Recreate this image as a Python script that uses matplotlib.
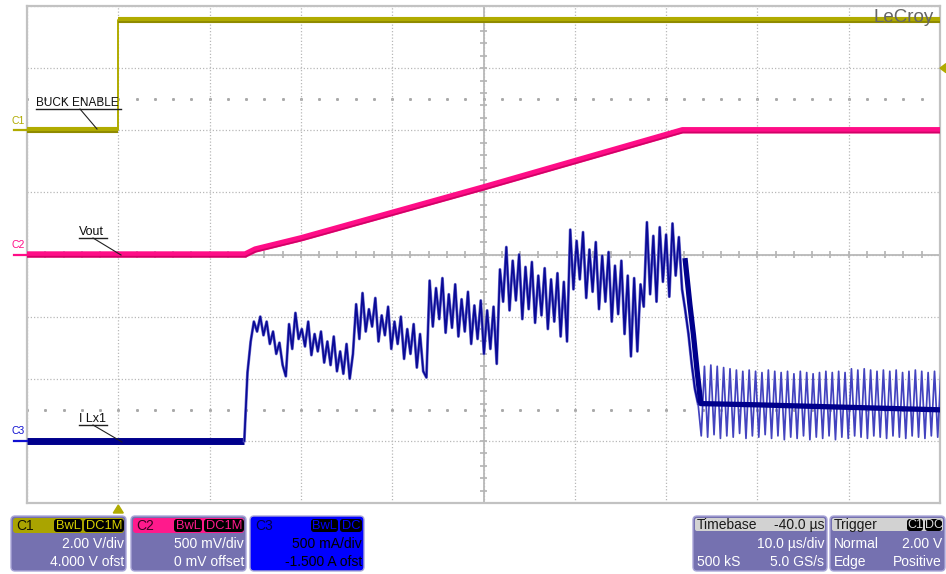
import numpy as np
import matplotlib.pyplot as plt
from matplotlib.patches import FancyBboxPatch, Polygon
from matplotlib.transforms import offset_copy

plt.rcParams["font.family"] = ["Liberation Sans", "DejaVu Sans"]

# timebase (us)
TIME_DIV = 10.0
DELAY = -40.0

# channel scale per div and offset
C1_SCALE, C1_OFFSET = 2.0, 4.0     # V
C2_SCALE, C2_OFFSET = 0.5, 0.0     # V
C3_SCALE, C3_OFFSET = 0.5, -1.5    # A

# C1: BUCK ENABLE (V)
en_t = [-10.0, 0.0, 0.0, 90.0]
en_v = [0.0, 0.0, 3.55, 3.55]

# C2: Vout (V)
vout_t = [-10.0, 13.9, 15.0, 20.0, 40.0, 61.8, 90.0]
vout_v = [0.0, 0.0, 0.04, 0.13, 0.54, 1.0, 1.0]

# C3: I Lx1 (mA) - idle part, then sampled record
ilx_idle_t = [-10.0, 13.8]
ilx_idle_ma = [0, 0]
ILX_T0, ILX_DT = 13.8, 0.35
ilx_ma = [
    0, 550, 800, 960, 880, 1000, 850, 960, 780, 880, 700, 790, 610, 520,
    940, 740, 1030, 820, 900, 760, 960, 690, 860, 720, 880, 630, 800, 610,
    840, 560, 720, 540, 780, 500, 700,
    1100, 820, 1190, 880, 1060, 920, 1150, 800, 1010, 850, 1080, 740, 960,
    780, 1000, 660, 900, 700, 940, 590, 860, 560, 510,
    1290, 920, 1230, 980, 1310, 870, 1180, 910, 1260, 840, 1140, 880, 1200,
    780, 1090, 820, 1130, 700, 1050, 740, 1080, 620,
    1380, 1120, 1560, 1050, 1450, 1130, 1500, 980, 1400, 1060, 1440, 950,
    1330, 1010, 1390, 900, 1300, 960, 1350, 840, 1280, 800,
    1700, 1220, 1610, 1300, 1680, 1150, 1540, 1200, 1600, 1060, 1490, 1120,
    1520, 960, 1410, 1020, 1450, 860, 1330, 680, 1310, 720, 1260,
    1080, 1760, 1180, 1650, 1120, 1720, 1280, 1660, 1160, 1750, 1330, 1640, 1220,
    1050, 860, 620, 420, 300,
    40, 600, 30, 610, 50, 600, 20, 590, 40, 580,
    30, 570, 60, 560, 20, 570, 40, 560, 30, 550,
    50, 570, 20, 560, 40, 550, 10, 560, 30, 540,
    20, 560, 40, 550, 10, 540, 30, 550, 20, 560,
    40, 550, 10, 560, 30, 550, 20, 580, 40, 570,
    30, 580, 20, 570, 40, 560, 30, 570, 20, 560,
    40, 570, 30, 550, 20, 560, 40, 570, 30, 560,
    20, 550, 40, 560, 30, 560,
]
RIPPLE_START = 142          # first sample after the current drops
# dark centre of the trace after the drop
ilx_core_t = [62.1, 62.6, 63.0, 63.4, 63.8, 70.0, 90.0]
ilx_core_ma = [1450, 1100, 850, 560, 300, 290, 250]

# readout boxes
c1_rows = ["2.00 V/div", "4.000 V ofst"]
c2_rows = ["500 mV/div", "0 mV offset"]
c3_rows = ["500 mA/div", "-1.500 A ofst"]
tb_rows = ["-40.0 µs", "10.0 µs/div", "500 kS", "5.0 GS/s"]
trig_rows = ["Normal", "2.00 V", "Edge", "Positive"]

YEL = "#b0ab00"
PINK = "#ff0d87"
NAVY = "#00008c"
BOXC = "#7571b0"

PL, PR, PT, PB = 27, 940, 6, 503


def to_div(vals, scale, offset):
    return (np.asarray(vals, dtype=float) + offset) / scale


def div_to_py(d):
    return (PT + PB) / 2 - d * (PB - PT) / 8


fig = plt.figure(figsize=(9.46, 5.74), dpi=100)
ax = fig.add_axes([PL / 946, 1 - PB / 574, (PR - PL) / 946, (PB - PT) / 574])
ax.set_xlim(-DELAY - 5 * TIME_DIV, -DELAY + 5 * TIME_DIV)
ax.set_ylim(-4, 4)
ax.set_xticks(np.arange(-DELAY - 5 * TIME_DIV, -DELAY + 5 * TIME_DIV + 1, TIME_DIV))
ax.set_yticks(np.arange(-4, 5, 1))
ax.tick_params(length=0, labelbottom=False, labelleft=False)
ax.grid(True, color="#b8b8b8", ls=(0, (1, 1.6)), lw=0.9)
for s in ax.spines.values():
    s.set_color("#c2c2c2")
    s.set_linewidth(1.6)

# centre cross with minor ticks
xc = -DELAY
ax.axvline(xc, color="#b3b3b3", lw=1.2, zorder=1)
ax.axhline(0, color="#b3b3b3", lw=1.2, zorder=1)
ax.vlines(np.arange(-10, 90.01, TIME_DIV / 5), -0.055, 0.055, color="#b3b3b3", lw=1.2, zorder=1)
ax.hlines(np.arange(-4, 4.01, 0.2), xc - 0.35, xc + 0.35, color="#b3b3b3", lw=1.2, zorder=1)
for yd in (2.5, -2.5):
    xs = np.arange(-10, 90.01, TIME_DIV / 5)
    ax.plot(xs, np.full(len(xs), yd), ls="none", marker="s", ms=1.1, color="#a8a8a8", zorder=1)

below = offset_copy(ax.transData, fig=fig, x=0, y=-1.6, units="points")

# C1
y1 = to_div(en_v, C1_SCALE, C1_OFFSET)
ax.plot(en_t, y1, color=YEL, lw=1.4, zorder=3)
for seg in (slice(0, 2), slice(2, 4)):
    ax.plot(en_t[seg], y1[seg], color=YEL, lw=4.4, solid_capstyle="butt", zorder=3)
    ax.plot(en_t[seg], y1[seg], color="#8d8800", lw=1.3, solid_capstyle="butt",
            transform=below, zorder=3)

# C2
y2 = to_div(vout_v, C2_SCALE, C2_OFFSET)
ax.plot(vout_t, y2, color=PINK, lw=4.6, solid_capstyle="butt", zorder=4)
ax.plot(vout_t, y2, color="#c4005e", lw=1.2, transform=below, alpha=0.8, zorder=4)

# C3
y3_idle = to_div(np.asarray(ilx_idle_ma) / 1000, C3_SCALE, C3_OFFSET)
ax.plot(ilx_idle_t, y3_idle, color=NAVY, lw=5, solid_capstyle="butt", zorder=5)
ilx_t = ILX_T0 + ILX_DT * np.arange(len(ilx_ma))
y3 = to_div(np.asarray(ilx_ma) / 1000, C3_SCALE, C3_OFFSET)
y3c = to_div(np.asarray(ilx_core_ma) / 1000, C3_SCALE, C3_OFFSET)
k = RIPPLE_START
ax.plot(ilx_t[:k + 1], y3[:k + 1], color="#7272cf", lw=2.1, zorder=5)
ax.plot(ilx_t[:k + 1], y3[:k + 1], color="#0a0a96", lw=1.25, zorder=5)
ax.plot(ilx_t[k:], y3[k:], color="#4343bf", lw=1.25, zorder=5)
ax.plot(ilx_core_t, y3c, color=NAVY, lw=3.8, zorder=6)

# overlay in pixel coordinates
ov = fig.add_axes([0, 0, 1, 1], facecolor="none")
ov.set_xlim(0, 946)
ov.set_ylim(574, 0)
ov.axis("off")

for name, col, gnd in (("C1", YEL, C1_OFFSET / C1_SCALE),
                       ("C2", PINK, C2_OFFSET / C2_SCALE),
                       ("C3", "#1010d0", C3_OFFSET / C3_SCALE)):
    py = div_to_py(gnd)
    ov.plot([14, PL], [py, py], color=col, lw=1.6)
    ov.text(11, py - 4.5, name, color=col, fontsize=7.5, ha="left", va="bottom")

# trigger markers
trig_py = div_to_py((2.0 + C1_OFFSET) / C1_SCALE)
ov.add_patch(Polygon([(946, trig_py - 4.5), (946, trig_py + 4.5), (940, trig_py)], color=YEL))
trig_px = PL + (0 - (-DELAY - 5 * TIME_DIV)) / (10 * TIME_DIV) * (PR - PL)
ov.add_patch(Polygon([(trig_px - 5, 513), (trig_px + 5, 513), (trig_px, 505)], color=YEL))


def label(x, y, txt, w, lead, tip, fs=9):
    ov.text(x, y, txt, fontsize=fs, color="#101010", ha="left", va="baseline")
    ov.plot([x, x + w], [y + 2.5, y + 2.5], color="#202020", lw=1.0)
    ov.plot([x + lead, tip[0]], [y + 3, tip[1]], color="#202020", lw=0.8)


label(36, 106, "BUCK ENABLE", 85, 44, (97, 129), fs=8.5)
label(79, 235, "Vout", 28, 14, (121, 255))
label(79, 422, "I Lx1", 28, 14, (122, 442))

ov.text(904, 17, "LeCroy", fontsize=13.5, color="#666666", ha="center", va="center")


def rbox(x0, y0, x1, y1, fc, ec="none", r=4, lw=1.0):
    ov.add_patch(FancyBboxPatch((x0, y0), x1 - x0, y1 - y0,
                                boxstyle=f"round,pad=0,rounding_size={r}",
                                fc=fc, ec=ec, lw=lw))


def badge(x0, x1, txt, col):
    rbox(x0, 519, x1, 532, "black", r=3)
    ov.text((x0 + x1) / 2, 526, txt, fontsize=9.3, color=col, ha="center", va="center")


def chan_box(x0, x1, name, head, tcol, ncol, badges, rows, body, rowcol="white"):
    rbox(x0, 516, x1, 571, body, ec="#a9a5d8")
    if head != body:
        rbox(x0 + 2, 518, x1 - 2, 533, head, r=3)
    ov.text(x0 + 5, 526, name, fontsize=10, color=ncol, ha="left", va="center")
    bx = x1 - 2
    for txt, w in reversed(badges):
        badge(bx - w, bx, txt, tcol)
        bx -= w + 2
    ov.text(x1 - 2, 544, rows[0], fontsize=10, color=rowcol, ha="right", va="center")
    ov.text(x1 - 2, 562, rows[1], fontsize=10, color=rowcol, ha="right", va="center")


chan_box(11, 126, "C1", "#aaa400", "#d8d200", "#141400", [("BwL", 28), ("DC1M", 40)], c1_rows, BOXC)
chan_box(131, 246, "C2", "#ff1a8c", "#ff1a8c", "#3a0020", [("BwL", 28), ("DC1M", 40)], c2_rows, BOXC)
chan_box(250, 364, "C3", "#0000ff", "#0000ff", "#00004a", [("BwL", 27), ("DC", 22)], c3_rows,
         "#0000ff", rowcol="black")

# timebase
rbox(693, 516, 827, 571, BOXC, ec="#a9a5d8")
rbox(695, 518, 825, 531, "#d2d2d2", r=2)
ov.text(697, 525, "Timebase", fontsize=10, color="#1a1a1a", ha="left", va="center")
ov.text(824, 525, tb_rows[0], fontsize=10, color="#1a1a1a", ha="right", va="center")
ov.text(824, 544, tb_rows[1], fontsize=10, color="white", ha="right", va="center")
ov.text(697, 562, tb_rows[2], fontsize=10, color="white", ha="left", va="center")
ov.text(824, 562, tb_rows[3], fontsize=10, color="white", ha="right", va="center")

# trigger
rbox(830, 516, 945, 571, BOXC, ec="#a9a5d8")
rbox(832, 518, 943, 531, "#d2d2d2", r=2)
ov.text(834, 525, "Trigger", fontsize=10, color="#1a1a1a", ha="left", va="center")
rbox(907, 519, 923, 531, "black", r=3)
ov.text(915, 525, "C1", fontsize=9, color="#d8d8d8", ha="center", va="center")
rbox(925, 519, 942, 531, "black", r=3)
ov.text(933.5, 525, "DC", fontsize=9, color="#d8d8d8", ha="center", va="center")
ov.text(834, 544, trig_rows[0], fontsize=10, color="white", ha="left", va="center")
ov.text(942, 544, trig_rows[1], fontsize=10, color="white", ha="right", va="center")
ov.text(834, 562, trig_rows[2], fontsize=10, color="white", ha="left", va="center")
ov.text(942, 562, trig_rows[3], fontsize=10, color="white", ha="right", va="center")

fig.savefig("out.png", dpi=100)
